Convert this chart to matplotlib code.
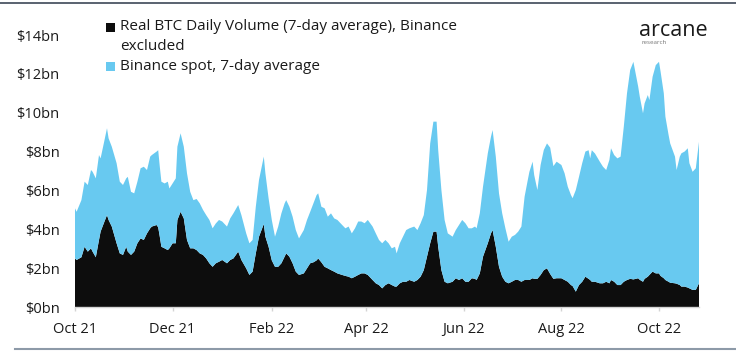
import numpy as np
import pandas as pd
import matplotlib
matplotlib.use("Agg")
import matplotlib.pyplot as plt
from matplotlib.patches import Rectangle
from matplotlib.lines import Line2D

plt.rcParams['font.family'] = ['Open Sans', 'DejaVu Sans']

# ---------------- data ----------------
start_date = "2021-10-01"
day_offset = [0, 1, 4, 6, 8, 10, 11, 13, 15, 16, 18, 20, 21, 23, 26, 28, 30, 32, 33, 35,
              37, 39, 41, 43, 45, 47, 48, 51, 52, 53, 54, 56, 58, 59, 61, 63, 64, 66, 68, 70,
              72, 74, 76, 78, 80, 82, 84, 86, 88, 90, 92, 95, 97, 99, 102, 104, 107, 109, 111, 113,
              115, 118, 119, 121, 123, 125, 127, 129, 131, 132, 134, 136, 138, 140, 143, 145, 147, 149, 151, 152,
              154, 156, 158, 160, 162, 164, 167, 169, 171, 173, 175, 177, 179, 181, 183, 186, 188, 190, 192, 194,
              196, 198, 200, 201, 203, 205, 207, 209, 212, 214, 216, 218, 220, 222, 224, 226, 227, 229, 231, 233,
              236, 238, 240, 242, 244, 246, 248, 250, 251, 253, 255, 258, 260, 261, 263, 265, 267, 269, 271, 273,
              275, 277, 279, 281, 283, 284, 286, 287, 289, 291, 293, 295, 297, 299, 301, 304, 306, 308, 310, 311,
              313, 315, 317, 319, 321, 322, 323, 325, 328, 330, 332, 334, 335, 337, 339, 341, 343, 345, 347, 349,
              352, 353, 355, 356, 358, 359, 361, 363, 365, 366, 368, 369, 371, 372, 375, 376, 378, 379, 381, 383,
              384, 386, 388, 390]

# total stacked height (Binance excluded + Binance spot), $bn
total_with_binance = [5.08, 4.9, 5.5, 6.45, 6.28, 7.05, 6.96, 6.62, 7.82, 7.65, 8.42, 9.2, 8.68, 8.25, 7.4, 6.45, 6.28, 6.62, 6.7, 5.93,
                      5.85, 6.45, 7.14, 7.22, 7.05, 7.74, 7.82, 8.0, 8.07, 7.22, 6.45, 6.36, 6.45, 6.1, 6.36, 6.62, 8.25, 8.94, 8.25, 6.88,
                      5.93, 5.5, 5.56, 5.33, 5.0, 4.73, 4.48, 4.05, 4.3, 4.48, 4.4, 4.14, 4.56, 4.82, 5.25, 4.73, 3.79, 3.28, 3.45, 5.16,
                      6.54, 7.74, 6.88, 5.59, 4.48, 3.62, 4.14, 4.82, 5.33, 5.5, 5.16, 4.65, 3.96, 3.53, 3.96, 4.48, 4.9, 5.33, 5.76, 5.85,
                      5.16, 5.08, 4.65, 4.82, 4.56, 4.48, 4.22, 4.05, 4.14, 3.79, 4.05, 4.4, 4.4, 4.31, 4.48, 4.14, 3.79, 3.45, 3.28, 3.45,
                      3.28, 3.02, 3.1, 2.76, 3.28, 3.62, 3.96, 4.05, 4.14, 3.96, 4.31, 4.73, 6.02, 8.42, 9.54, 9.54, 8.08, 6.02, 4.48, 3.79,
                      3.62, 3.96, 4.22, 4.48, 4.31, 4.05, 4.05, 4.14, 4.05, 4.82, 6.19, 7.91, 8.77, 9.11, 7.74, 5.85, 4.82, 4.05, 3.36, 3.62,
                      3.71, 3.88, 4.14, 5.68, 6.54, 6.96, 7.48, 6.79, 6.02, 7.31, 8.08, 8.42, 8.2, 7.25, 7.48, 7.31, 6.88, 6.19, 5.76, 5.6,
                      6.02, 6.7, 7.4, 8.0, 8.07, 7.65, 8.07, 7.9, 7.48, 7.22, 7.05, 7.57, 8.17, 7.82, 7.65, 7.74, 9.28, 11.0, 12.2, 12.62,
                      11.34, 10.82, 9.97, 10.48, 10.91, 10.65, 11.85, 12.45, 12.62, 12.11, 11.0, 9.8, 8.85, 8.42, 7.74, 7.05, 7.74, 7.91, 8.0, 8.17,
                      7.4, 6.96, 7.14, 8.5]

# Real BTC daily volume (7-day avg), Binance excluded, $bn
real_volume_ex_binance = [2.5, 2.42, 2.56, 3.1, 2.85, 3.02, 2.85, 2.56, 3.45, 3.88, 4.31, 4.73, 4.48, 4.14, 3.28, 2.76, 2.68, 3.1, 2.85, 2.68,
                          2.85, 3.28, 3.53, 3.45, 3.79, 4.05, 4.14, 4.22, 4.1, 3.62, 3.1, 3.02, 2.93, 3.02, 3.28, 3.28, 4.48, 4.9, 4.56, 3.45,
                          3.02, 3.02, 2.93, 2.76, 2.68, 2.5, 2.25, 2.07, 2.25, 2.33, 2.42, 2.25, 2.42, 2.5, 2.85, 2.42, 1.99, 1.65, 1.82, 2.76,
                          3.62, 4.27, 3.62, 3.1, 2.4, 2.07, 2.07, 2.25, 2.59, 2.76, 2.59, 2.25, 1.82, 1.65, 1.73, 1.99, 2.25, 2.3, 2.4, 2.5,
                          2.3, 2.07, 1.99, 1.9, 1.82, 1.73, 1.65, 1.6, 1.56, 1.48, 1.56, 1.65, 1.73, 1.73, 1.65, 1.39, 1.22, 1.13, 0.96, 1.13,
                          1.22, 1.13, 1.05, 1.05, 1.22, 1.3, 1.3, 1.39, 1.3, 1.39, 1.56, 1.9, 2.59, 3.28, 3.88, 3.88, 3.1, 1.9, 1.3, 1.22,
                          1.3, 1.48, 1.39, 1.48, 1.3, 1.3, 1.48, 1.45, 1.39, 1.73, 2.59, 3.28, 3.79, 3.96, 3.1, 2.07, 1.56, 1.3, 1.22, 1.3,
                          1.39, 1.39, 1.3, 1.39, 1.39, 1.39, 1.48, 1.45, 1.45, 1.65, 1.9, 1.99, 1.7, 1.45, 1.48, 1.48, 1.39, 1.3, 1.13, 1.08,
                          0.79, 1.13, 1.3, 1.56, 1.45, 1.39, 1.3, 1.3, 1.22, 1.22, 1.3, 1.22, 1.39, 1.3, 1.13, 1.13, 1.3, 1.39, 1.45, 1.42,
                          1.48, 1.4, 1.3, 1.45, 1.56, 1.65, 1.82, 1.73, 1.73, 1.6, 1.48, 1.39, 1.3, 1.25, 1.22, 1.2, 1.13, 1.05, 1.05, 1.0,
                          0.96, 0.88, 0.88, 1.22]

series_labels = ["Real BTC Daily Volume (7-day average), Binance\nexcluded",
                 "Binance spot, 7-day average"]
x_tick_dates = ["2021-10-01", "2021-12-01", "2022-02-01", "2022-04-01", "2022-06-01", "2022-08-01", "2022-10-01"]
x_tick_labels = ["Oct 21", "Dec 21", "Feb 22", "Apr 22", "Jun 22", "Aug 22", "Oct 22"]
y_ticks = [0, 2, 4, 6, 8, 10, 12, 14]
y_tick_labels = ["$0bn", "$2bn", "$4bn", "$6bn", "$8bn", "$10bn", "$12bn", "$14bn"]

# ---------------- styling ----------------
BLACK = "#0d0d0d"
BLUE = "#68c9f0"
TEXT = "#1a1a1a"

dates = pd.Timestamp(start_date) + pd.to_timedelta(day_offset, unit="D")
ex_binance = np.array(real_volume_ex_binance)
binance = np.array(total_with_binance) - ex_binance

W, H = 736, 354
fig = plt.figure(figsize=(W / 100, H / 100), dpi=100)
fig.patch.set_facecolor("white")
ax = fig.add_axes([75 / W, 1 - 307 / H, (699 - 75) / W, (307 - 35) / H])

ax.stackplot(dates, ex_binance, binance, colors=[BLACK, BLUE], linewidth=0)

ax.set_xlim(dates[0], dates[-1])
ax.set_ylim(0, 14)
ax.set_yticks(y_ticks)
ax.set_yticklabels(y_tick_labels)
ax.set_xticks(pd.to_datetime(x_tick_dates))
ax.set_xticklabels(x_tick_labels)

for s in ["top", "right", "left"]:
    ax.spines[s].set_visible(False)
ax.spines["bottom"].set_color("#d4d4d4")
ax.spines["bottom"].set_linewidth(1.0)
ax.tick_params(axis="y", length=0, pad=11, labelsize=10.5, labelcolor=TEXT)
ax.tick_params(axis="x", length=3, width=1, color="#d4d4d4", pad=8, labelsize=10.5, labelcolor=TEXT)

# legend (manual, first label wraps to a second line)
LEG_FS = 11
fig.patches.append(Rectangle((106 / W, 1 - 32 / H), 9 / W, 9 / H, transform=fig.transFigure,
                             facecolor=BLACK, edgecolor="none"))
fig.text(120 / W, 1 - 27 / H, series_labels[0].split("\n")[0], fontsize=LEG_FS, color=TEXT, va="center", ha="left")
fig.text(120 / W, 1 - 47 / H, series_labels[0].split("\n")[1], fontsize=LEG_FS, color=TEXT, va="center", ha="left")
fig.patches.append(Rectangle((106 / W, 1 - 71 / H), 9 / W, 9 / H, transform=fig.transFigure,
                             facecolor=BLUE, edgecolor="none"))
fig.text(120 / W, 1 - 66 / H, series_labels[1], fontsize=LEG_FS, color=TEXT, va="center", ha="left")

# logo
fig.text(639 / W, 1 - 30 / H, "arcane", fontsize=15.5, color=TEXT, va="center", ha="left")
fig.text(641 / W, 1 - 43 / H, "research", fontsize=4.5, color="#777777", va="center", ha="left")

# frame rules
fig.add_artist(Line2D([0, 1], [1 - 3 / H, 1 - 3 / H], transform=fig.transFigure, color="#3d4857", linewidth=1.2))
fig.add_artist(Line2D([15 / W, 1], [1 - 349 / H, 1 - 349 / H], transform=fig.transFigure, color="#8d9aa8", linewidth=1.5))

fig.savefig("out.png", dpi=100, facecolor="white")
